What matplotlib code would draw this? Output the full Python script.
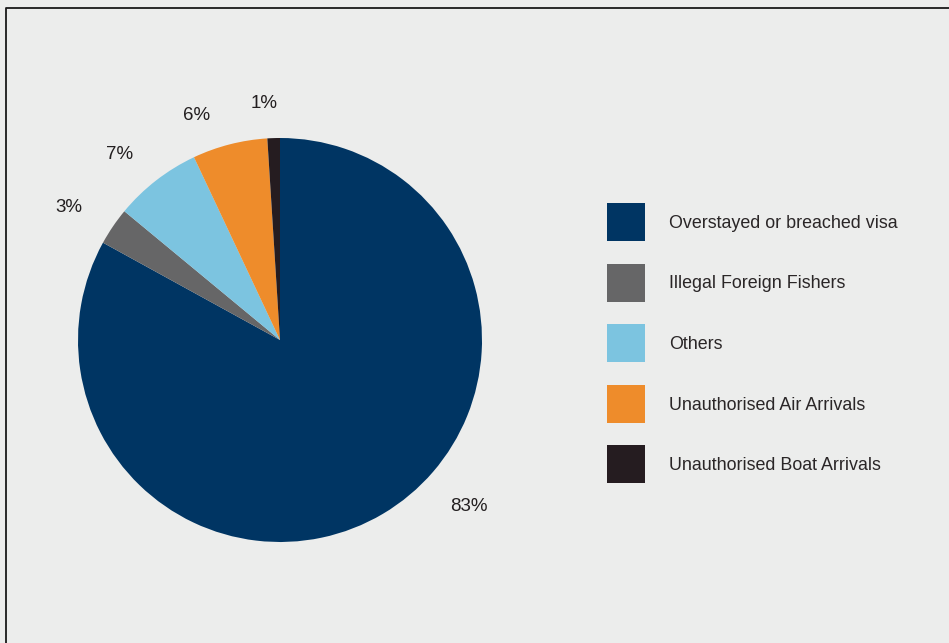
import numpy as np
import matplotlib.pyplot as plt
from matplotlib.patches import Rectangle

# shares of unlawful non-citizens located, by category
categories = ["Overstayed or breached visa", "Illegal Foreign Fishers", "Others",
              "Unauthorised Air Arrivals", "Unauthorised Boat Arrivals"]
shares = [83, 3, 7, 6, 1]
colors = ["#003563", "#666667", "#7cc4e0", "#ee8c2b", "#251c20"]

bg = "#ecedec"
plt.rcParams["font.family"] = ["Liberation Sans", "DejaVu Sans"]

W, H = 949, 643
fig = plt.figure(figsize=(W / 100, H / 100), dpi=100, facecolor=bg)

# pie, centre (280, 340) px, radius 202 px
cx, cy, r = 280, 340, 202
ax = fig.add_axes([(cx - r) / W, (H - cy - r) / H, 2 * r / W, 2 * r / H])
wedges, _ = ax.pie(shares, colors=colors, startangle=90, counterclock=False,
                   radius=1.0, wedgeprops=dict(linewidth=0))
ax.set_xlim(-1, 1)
ax.set_ylim(-1, 1)
ax.set_aspect("equal")
ax.axis("off")

# percentage labels sit just outside their slices
label_shift = [18, 2, 3, 6, 2]
label_dist = [1.245, 1.235, 1.215, 1.185, 1.175]
for w, v, sh, d in zip(wedges, shares, label_shift, label_dist):
    ang = np.deg2rad((w.theta1 + w.theta2) / 2 + sh)
    ax.text(d * np.cos(ang), d * np.sin(ang), f"{v}%", ha="center", va="center",
            fontsize=13.5, color="#231f20", clip_on=False)

# overlay in pixel coordinates for border and legend
ov = fig.add_axes([0, 0, 1, 1], facecolor="none")
ov.set_xlim(0, W)
ov.set_ylim(H, 0)
ov.axis("off")
ov.plot([6.5, 6.5, W], [H, 7.5, 7.5], color="#1a1a1a", lw=1.3, solid_capstyle="butt")

for i, (name, c) in enumerate(zip(categories, colors)):
    yc = 222 + i * 60.5
    ov.add_patch(Rectangle((607, yc - 19), 38, 38, facecolor=c, edgecolor="none"))
    ov.text(669, yc + 1.5, name, ha="left", va="center", fontsize=12.9, color="#2a2627")

fig.savefig("out.png", dpi=100, facecolor=bg)
